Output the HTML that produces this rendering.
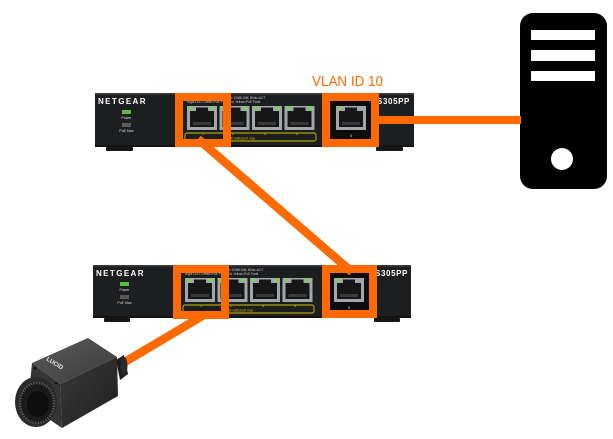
<!DOCTYPE html>
<html>
<head>
<meta charset="utf-8">
<style>
  html,body{margin:0;padding:0;background:#fff;}
  svg{display:block;}
  text{font-family:"Liberation Sans",sans-serif;}
</style>
</head>
<body>
<svg width="613" height="439" viewBox="0 0 613 439" xmlns="http://www.w3.org/2000/svg">
  <rect width="613" height="439" fill="#ffffff"/>

  <!-- Server -->
  <rect x="520" y="13" width="87" height="176" rx="13" ry="13" fill="#000"/>
  <rect x="531" y="30" width="64" height="10" fill="#fff"/>
  <rect x="531" y="50" width="64" height="11" fill="#fff"/>
  <rect x="531" y="71" width="64" height="10" fill="#fff"/>
  <circle cx="562" cy="159" r="11" fill="#fff"/>

  <!-- Switch 1 -->
  <g transform="translate(95,93)">
    <rect x="0" y="0" width="319" height="54" fill="#1d1e20"/>
    <rect x="0" y="0" width="319" height="1.5" fill="#3b3c3e"/>
    <rect x="0" y="52" width="319" height="2" fill="#131313"/>
    <rect x="11" y="54" width="27" height="4" rx="1" fill="#151515"/>
    <rect x="281" y="54" width="27" height="4" rx="1" fill="#151515"/>
    <text x="3" y="11" font-weight="bold" font-size="8" letter-spacing="1.4" fill="#fff">NETGEAR</text>
    <rect x="27" y="17" width="9" height="4" fill="#5dbb46"/>
    <text x="31.5" y="26" font-size="3.5" fill="#ddd" text-anchor="middle">Power</text>
    <rect x="27" y="30" width="9" height="4" fill="#5a5a5a"/>
    <text x="31.5" y="39" font-size="3.5" fill="#ddd" text-anchor="middle">PoE Max</text>
    <text x="92" y="6" font-size="3.2" fill="#ccc">Left LED: Green=1000M, Yellow 100M/10M, Blink=ACT</text>
    <text x="92" y="10" font-size="3.2" fill="#ccc">Right LED: Green=PoE Powered, Yellow=PoE Fault</text>
    <text x="315" y="11" font-weight="bold" font-size="8" letter-spacing="0.6" fill="#fff" text-anchor="end">GS305PP</text>
    <!-- ports 1-4 -->
    <g>
      <rect x="92" y="13" width="30" height="24" fill="#a3a7ab"/><rect x="95" y="18" width="24" height="16" fill="#161616"/><rect x="101" y="14.5" width="12" height="5" fill="#161616"/><rect x="98" y="29" width="18" height="3" fill="#3a3a3a"/><rect x="93.5" y="13.5" width="5" height="3" fill="#7fd060"/><rect x="115.5" y="13.5" width="5" height="3" fill="#7fd060"/>
      <rect x="124.5" y="13" width="30" height="24" fill="#a3a7ab"/><rect x="127.5" y="18" width="24" height="16" fill="#161616"/><rect x="133.5" y="14.5" width="12" height="5" fill="#161616"/><rect x="130.5" y="29" width="18" height="3" fill="#3a3a3a"/><rect x="126" y="13.5" width="5" height="3" fill="#7fd060"/><rect x="148" y="13.5" width="5" height="3" fill="#7fd060"/>
      <rect x="157" y="13" width="30" height="24" fill="#a3a7ab"/><rect x="160" y="18" width="24" height="16" fill="#161616"/><rect x="166" y="14.5" width="12" height="5" fill="#161616"/><rect x="163" y="29" width="18" height="3" fill="#3a3a3a"/><rect x="158.5" y="13.5" width="5" height="3" fill="#7fd060"/><rect x="180.5" y="13.5" width="5" height="3" fill="#7fd060"/>
      <rect x="189.5" y="13" width="30" height="24" fill="#a3a7ab"/><rect x="192.5" y="18" width="24" height="16" fill="#161616"/><rect x="198.5" y="14.5" width="12" height="5" fill="#161616"/><rect x="195.5" y="29" width="18" height="3" fill="#3a3a3a"/><rect x="191" y="13.5" width="5" height="3" fill="#7fd060"/><rect x="213" y="13.5" width="5" height="3" fill="#7fd060"/>
    </g>
    <rect x="90" y="40" width="131" height="8" rx="2" fill="none" stroke="#d4c000" stroke-width="0.9"/>
    <text x="108" y="42" font-size="3.5" fill="#d4c000" text-anchor="middle">1</text>
    <text x="138" y="42" font-size="3.5" fill="#d4c000" text-anchor="middle">2</text>
    <text x="170" y="42" font-size="3.5" fill="#d4c000" text-anchor="middle">3</text>
    <text x="202" y="42" font-size="3.5" fill="#d4c000" text-anchor="middle">4</text>
    <text x="128" y="46.5" font-size="3.2" fill="#d4c000">PoE 30 watts/port max</text>
    <!-- port 5 -->
    <rect x="236" y="8" width="40" height="41" fill="#0d0d0d"/>
    <rect x="241" y="13" width="30" height="24" fill="#a3a7ab"/><rect x="244" y="18" width="24" height="16" fill="#161616"/><rect x="250" y="14.5" width="12" height="5" fill="#161616"/><rect x="247" y="29" width="18" height="3" fill="#3a3a3a"/><rect x="242.5" y="13.5" width="5" height="3" fill="#7fd060"/>
    <text x="256" y="44" font-size="4" fill="#ccc" text-anchor="middle">5</text>
  </g>

  <!-- Switch 2 -->
  <g transform="translate(93,265)">
    <rect x="0" y="0" width="318" height="53" fill="#1d1e20"/>
    <rect x="0" y="0" width="318" height="1.5" fill="#3b3c3e"/>
    <rect x="0" y="51" width="318" height="2" fill="#131313"/>
    <rect x="11" y="53" width="26" height="4" rx="1" fill="#151515"/>
    <rect x="281" y="53" width="26" height="4" rx="1" fill="#151515"/>
    <text x="3" y="11" font-weight="bold" font-size="8" letter-spacing="1.4" fill="#fff">NETGEAR</text>
    <rect x="27" y="17" width="9" height="4" fill="#5dbb46"/>
    <text x="31.5" y="26" font-size="3.5" fill="#ddd" text-anchor="middle">Power</text>
    <rect x="27" y="30" width="9" height="4" fill="#5a5a5a"/>
    <text x="31.5" y="39" font-size="3.5" fill="#ddd" text-anchor="middle">PoE Max</text>
    <text x="92" y="6" font-size="3.2" fill="#ccc">Left LED: Green=1000M, Yellow 100M/10M, Blink=ACT</text>
    <text x="92" y="10" font-size="3.2" fill="#ccc">Right LED: Green=PoE Powered, Yellow=PoE Fault</text>
    <text x="315" y="11" font-weight="bold" font-size="8" letter-spacing="0.6" fill="#fff" text-anchor="end">GS305PP</text>
    <g>
      <rect x="92" y="13" width="30" height="24" fill="#a3a7ab"/><rect x="95" y="18" width="24" height="16" fill="#161616"/><rect x="101" y="14.5" width="12" height="5" fill="#161616"/><rect x="98" y="29" width="18" height="3" fill="#3a3a3a"/><rect x="93.5" y="13.5" width="5" height="3" fill="#7fd060"/><rect x="115.5" y="13.5" width="5" height="3" fill="#7fd060"/>
      <rect x="124.5" y="13" width="30" height="24" fill="#a3a7ab"/><rect x="127.5" y="18" width="24" height="16" fill="#161616"/><rect x="133.5" y="14.5" width="12" height="5" fill="#161616"/><rect x="130.5" y="29" width="18" height="3" fill="#3a3a3a"/><rect x="126" y="13.5" width="5" height="3" fill="#7fd060"/><rect x="148" y="13.5" width="5" height="3" fill="#7fd060"/>
      <rect x="157" y="13" width="30" height="24" fill="#a3a7ab"/><rect x="160" y="18" width="24" height="16" fill="#161616"/><rect x="166" y="14.5" width="12" height="5" fill="#161616"/><rect x="163" y="29" width="18" height="3" fill="#3a3a3a"/><rect x="158.5" y="13.5" width="5" height="3" fill="#7fd060"/><rect x="180.5" y="13.5" width="5" height="3" fill="#7fd060"/>
      <rect x="189.5" y="13" width="30" height="24" fill="#a3a7ab"/><rect x="192.5" y="18" width="24" height="16" fill="#161616"/><rect x="198.5" y="14.5" width="12" height="5" fill="#161616"/><rect x="195.5" y="29" width="18" height="3" fill="#3a3a3a"/><rect x="191" y="13.5" width="5" height="3" fill="#7fd060"/><rect x="213" y="13.5" width="5" height="3" fill="#7fd060"/>
    </g>
    <rect x="90" y="40" width="131" height="8" rx="2" fill="none" stroke="#d4c000" stroke-width="0.9"/>
    <text x="108" y="42" font-size="3.5" fill="#d4c000" text-anchor="middle">1</text>
    <text x="138" y="42" font-size="3.5" fill="#d4c000" text-anchor="middle">2</text>
    <text x="170" y="42" font-size="3.5" fill="#d4c000" text-anchor="middle">3</text>
    <text x="202" y="42" font-size="3.5" fill="#d4c000" text-anchor="middle">4</text>
    <text x="128" y="46.5" font-size="3.2" fill="#d4c000">PoE 30 watts/port max</text>
    <rect x="236" y="8" width="40" height="40" fill="#0d0d0d"/>
    <rect x="241" y="13" width="30" height="24" fill="#a3a7ab"/><rect x="244" y="18" width="24" height="16" fill="#161616"/><rect x="250" y="14.5" width="12" height="5" fill="#161616"/><rect x="247" y="29" width="18" height="3" fill="#3a3a3a"/><rect x="242.5" y="13.5" width="5" height="3" fill="#7fd060"/>
    <text x="256" y="44" font-size="4" fill="#ccc" text-anchor="middle">5</text>
  </g>

  <!-- Connectors -->
  <line x1="379" y1="120" x2="521" y2="120" stroke="#ff6a00" stroke-width="8"/>
  <line x1="198" y1="139" x2="352" y2="272" stroke="#ff6a00" stroke-width="8.5"/>
  <line x1="118" y1="366" x2="204" y2="315" stroke="#ff6a00" stroke-width="8.5"/>

  <!-- Orange port highlight boxes -->
  <rect x="179" y="97" width="48" height="46" fill="none" stroke="#ff6a00" stroke-width="8"/>
  <rect x="326" y="97" width="49" height="46" fill="none" stroke="#ff6a00" stroke-width="8"/>
  <rect x="177" y="269" width="48" height="46" fill="none" stroke="#ff6a00" stroke-width="8"/>
  <rect x="326" y="269" width="47" height="45" fill="none" stroke="#ff6a00" stroke-width="8"/>

  <!-- VLAN label -->
  <text x="312" y="86" font-size="15" fill="#ff6a00" textLength="71" lengthAdjust="spacingAndGlyphs">VLAN ID 10</text>

  <!-- Camera -->
  <defs>
    <linearGradient id="topf" x1="0" y1="0" x2="1" y2="1">
      <stop offset="0" stop-color="#5a5a5a"/>
      <stop offset="1" stop-color="#3c3c3c"/>
    </linearGradient>
    <linearGradient id="sidef" x1="0" y1="0" x2="1" y2="1">
      <stop offset="0" stop-color="#3a3a3a"/>
      <stop offset="1" stop-color="#1f1f1f"/>
    </linearGradient>
  </defs>
  <polygon points="116,360 124,355 128,374 120,380" fill="#1c1c1c"/>
  <ellipse cx="124" cy="366" rx="3.5" ry="9" fill="#2a2a2a"/>
  <polygon points="32,363 88,338 117,357 60,384" fill="url(#topf)"/>
  <polygon points="60,384 117,357 118,396 62,428" fill="url(#sidef)"/>
  <polygon points="32,363 60,384 62,428 28,405" fill="#353535"/>
  <circle cx="35" cy="368" r="1.3" fill="#111"/>
  <circle cx="56" cy="383" r="1.3" fill="#111"/>
  <text x="46" y="360" font-size="6" font-weight="bold" fill="#eee" transform="rotate(32 46 360)">LUCID</text>
  <ellipse cx="36" cy="402" rx="21" ry="25" fill="#2a2a2a"/>
  <ellipse cx="37" cy="403" rx="17" ry="20" fill="#1a1a1a" stroke="#5a5a5a" stroke-width="2.5" stroke-dasharray="1.2 1.5"/>
  <ellipse cx="38" cy="404" rx="11" ry="13" fill="#0e0e0e"/>
</svg>
</body>
</html>
